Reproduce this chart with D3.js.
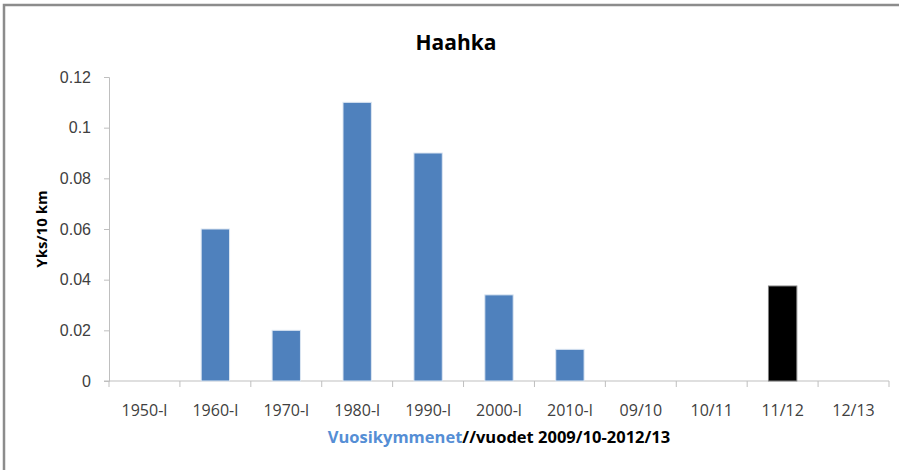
<!DOCTYPE html>
<html lang="fi">
<head>
    <meta charset="UTF-8">
    <title>Haahka</title>
    <script src="https://d3js.org/d3.v7.min.js"></script>
    <style>
        body { margin: 0; background: #fff; font-family: "Open Sans", Arial, sans-serif; }
        .tick text { fill: #404040; font-size: 16px; }
    </style>
</head>
<body>
    <div id="chart"></div>
    <script>
        const categories = ["1950-l", "1960-l", "1970-l", "1980-l", "1990-l", "2000-l", "2010-l", "09/10", "10/11", "11/12", "12/13"];
        const values = [0, 0.06, 0.02, 0.11, 0.09, 0.034, 0.0125, 0, 0, 0.0375, 0];
        const highlighted = ["11/12"];
        const yTicks = [0, 0.02, 0.04, 0.06, 0.08, 0.1, 0.12];

        const W = 899, H = 470;
        const svg = d3.select("#chart").append("svg")
            .attr("width", W)
            .attr("height", H);

        // outer frame (top and left edges)
        svg.append("path")
            .attr("d", `M4,${H} V5 H${W}`)
            .attr("fill", "none")
            .attr("stroke", "#8c8c8c")
            .attr("stroke-width", 2.5);

        const margin = { top: 77, right: 10, bottom: 89, left: 109 };
        const width = W - margin.left - margin.right;
        const height = H - margin.top - margin.bottom;

        const g = svg.append("g")
            .attr("transform", `translate(${margin.left},${margin.top})`);

        const x = d3.scaleBand()
            .domain(categories)
            .range([0, width])
            .paddingInner(0.6)
            .paddingOuter(0.3);

        const y = d3.scaleLinear()
            .domain([0, 0.12])
            .range([height, 0]);

        const yAxis = g.append("g")
            .call(d3.axisLeft(y).tickValues(yTicks).tickFormat(d => d3.format("")(+d.toFixed(2))).tickSize(5).tickPadding(13));
        yAxis.select(".domain").attr("stroke", "#bfbfbf");
        yAxis.selectAll(".tick line").attr("stroke", "#bfbfbf");

        // x axis: ticks at band boundaries
        const step = width / categories.length;
        const xg = g.append("g").attr("transform", `translate(0,${height})`);
        xg.append("line")
            .attr("x1", -5).attr("x2", width)
            .attr("stroke", "#bfbfbf");
        xg.selectAll(".bound")
            .data(d3.range(categories.length + 1))
            .enter().append("line")
            .attr("x1", i => i * step).attr("x2", i => i * step)
            .attr("y1", 0).attr("y2", 6)
            .attr("stroke", "#bfbfbf");
        xg.selectAll(".lab")
            .data(categories)
            .enter().append("text")
            .attr("x", d => x(d) + x.bandwidth() / 2)
            .attr("y", 35)
            .attr("text-anchor", "middle")
            .attr("fill", "#404040")
            .style("font-size", "16px")
            .text(d => d);

        g.selectAll(".bar")
            .data(categories.map((c, i) => ({ c, v: values[i] })).filter(d => d.v > 0))
            .enter().append("rect")
            .attr("x", d => x(d.c))
            .attr("y", d => y(d.v))
            .attr("width", x.bandwidth())
            .attr("height", d => height - y(d.v))
            .attr("fill", d => highlighted.includes(d.c) ? "#000000" : "#4f81bd")
            .attr("stroke", d => highlighted.includes(d.c) ? "#7f7f7f" : "#dce6f2")
            .attr("stroke-width", 1);

        svg.append("text")
            .attr("x", 456).attr("y", 50)
            .attr("text-anchor", "middle")
            .attr("font-weight", "bold")
            .style("font-size", "21px")
            .attr("fill", "#000")
            .text("Haahka");

        svg.append("text")
            .attr("transform", "translate(47,229) rotate(-90)")
            .attr("text-anchor", "middle")
            .attr("font-weight", "bold")
            .style("font-size", "15px")
            .attr("fill", "#000")
            .text("Yks/10 km");

        const xt = svg.append("text")
            .attr("x", 499).attr("y", 443)
            .attr("text-anchor", "middle")
            .attr("font-weight", "bold")
            .style("font-size", "16.5px");
        xt.append("tspan").attr("fill", "#558ed5").text("Vuosikymmenet");
        xt.append("tspan").attr("fill", "#000").text("//vuodet 2009/10-2012/13");
    </script>
</body>
</html>
